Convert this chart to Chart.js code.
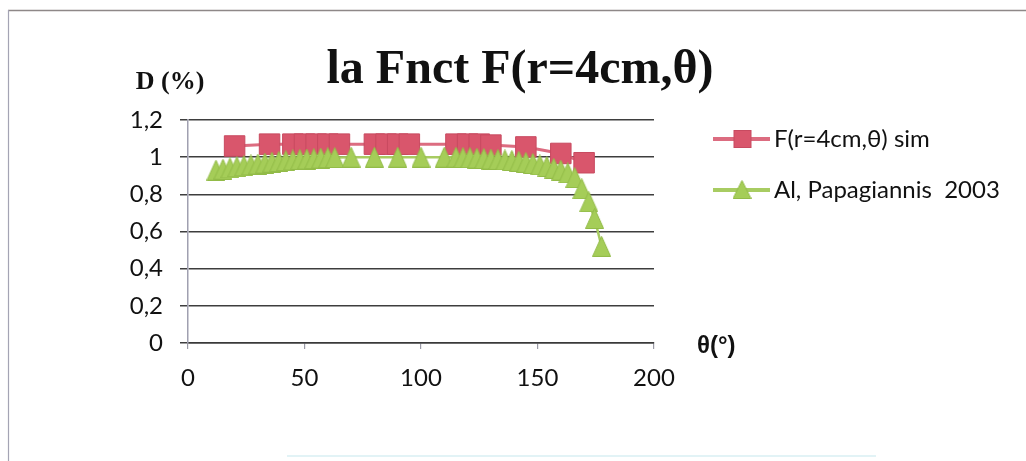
<!DOCTYPE html>
<html>
<head>
<meta charset="utf-8">
<script src="https://cdn.jsdelivr.net/npm/chart.js@4/dist/chart.umd.min.js"></script>
<style>
  html, body { margin: 0; padding: 0; background: #fff; overflow: hidden; }
  canvas { display: block; }
</style>
</head>
<body>
<canvas id="c" width="1026" height="461"></canvas>
<script>
// Simulated anisotropy function F(r=4cm, θ)
const simAngles = [20, 35, 45, 50, 55, 60, 65, 80, 85, 90, 95, 115, 120, 125, 130, 145, 160, 170];
const simValues = [1.06, 1.07, 1.07, 1.07, 1.07, 1.07, 1.07, 1.07, 1.07, 1.07, 1.07, 1.07, 1.07, 1.07, 1.065, 1.055, 1.02, 0.97];

// Published values (Papagiannis et al. 2003)
const refAngles = [12, 15, 18, 21, 24, 27, 30, 33, 36, 39, 42, 45, 48, 51, 54, 57, 60, 63,
                   70, 80, 90, 100, 110,
                   115, 118, 121, 124, 127, 130, 133, 136, 139, 142, 145, 148, 151, 154, 157, 160, 163, 166,
                   169, 172, 174.5, 177.5];
const refValues = [0.93, 0.935, 0.942, 0.948, 0.953, 0.958, 0.963, 0.968, 0.973, 0.977, 0.981, 0.985, 0.988, 0.99, 0.992, 0.995, 0.997, 0.998,
                   1.0, 1.0, 1.0, 1.0, 1.0,
                   1.0, 0.998, 0.997, 0.995, 0.993, 0.99, 0.988, 0.985, 0.982, 0.978, 0.972, 0.966, 0.958, 0.95, 0.94, 0.93, 0.915, 0.89,
                   0.83, 0.76, 0.67, 0.52];

const xTickValues = [0, 50, 100, 150, 200];
const yTickValues = [0, 0.2, 0.4, 0.6, 0.8, 1.0, 1.2];

const seriesNames = ['F(r=4cm,\u03b8) sim', 'Al, Papagiannis  2003'];
const chartTitle = 'la Fnct F(r=4cm,\u03b8)';
const yTitle = 'D (%)';
const xTitle = '\u03b8(\u00b0)';

const RED = '#d9566c';
const RED_EDGE = '#c84a60';
const RED_LINE = '#dc6c80';
const GREEN = '#a5cd58';
const GREEN_EDGE = '#92bb48';
const GREEN_LINE = '#a8cc62';

const SANS = 'Lato, "Open Sans", sans-serif';

function triangleSprite(w, h) {
  const cv = document.createElement('canvas');
  cv.width = w; cv.height = h;
  const g = cv.getContext('2d');
  g.beginPath();
  g.moveTo(w / 2, 0.5);
  g.lineTo(w - 0.5, h - 0.5);
  g.lineTo(0.5, h - 0.5);
  g.closePath();
  g.fillStyle = GREEN;
  g.fill();
  g.strokeStyle = GREEN_EDGE;
  g.lineWidth = 1;
  g.stroke();
  return cv;
}
const triPoint = triangleSprite(19, 21);
const triLegend = triangleSprite(19, 19);

const toPoints = (xs, ys) => xs.map((x, i) => ({ x: x, y: ys[i] }));

const decorations = {
  id: 'decorations',
  beforeDraw(chart) {
    const ctx = chart.ctx;
    ctx.save();
    ctx.fillStyle = '#ffffff';
    ctx.fillRect(0, 0, chart.width, chart.height);
    // sheet frame
    ctx.strokeStyle = '#8e8888';
    ctx.lineWidth = 1.5;
    ctx.beginPath();
    ctx.moveTo(8, 10.5); ctx.lineTo(1026, 10.5);
    ctx.stroke();
    ctx.strokeStyle = '#a4a4b4';
    ctx.lineWidth = 1.2;
    ctx.beginPath();
    ctx.moveTo(8.5, 10); ctx.lineTo(8.5, 461);
    ctx.stroke();
    ctx.strokeStyle = '#e2f3f6';
    ctx.lineWidth = 2;
    ctx.beginPath();
    ctx.moveTo(287, 456); ctx.lineTo(876, 456);
    ctx.stroke();
    ctx.restore();
  },
  afterDraw(chart) {
    const ctx = chart.ctx;
    ctx.save();
    ctx.fillStyle = '#111';
    // title
    ctx.font = 'bold 48px "Liberation Serif", "Times New Roman", serif';
    ctx.textAlign = 'center';
    ctx.textBaseline = 'alphabetic';
    ctx.fillText(chartTitle, 520, 83);
    // axis titles
    ctx.font = 'bold 26px "Liberation Serif", "Times New Roman", serif';
    ctx.textBaseline = 'middle';
    ctx.fillText(yTitle, 170, 82);
    ctx.font = 'bold 24px "Liberation Sans", Arial, sans-serif';
    ctx.textAlign = 'left';
    ctx.fillText(xTitle, 697, 346);

    // legend
    const rows = [
      { y: 139, line: RED_LINE, marker: 'rect', text: seriesNames[0] },
      { y: 190, line: GREEN_LINE, marker: 'tri', text: seriesNames[1] }
    ];
    rows.forEach(r => {
      ctx.strokeStyle = r.line;
      ctx.lineWidth = 4;
      ctx.beginPath();
      ctx.moveTo(713, r.y); ctx.lineTo(770, r.y);
      ctx.stroke();
      if (r.marker === 'rect') {
        ctx.fillStyle = RED;
        ctx.strokeStyle = RED_EDGE;
        ctx.lineWidth = 1;
        ctx.fillRect(734, r.y - 8.5, 17, 17);
        ctx.strokeRect(734, r.y - 8.5, 17, 17);
      } else {
        ctx.drawImage(triLegend, 742 - 9.5, r.y - 10);
      }
      ctx.fillStyle = '#111';
      ctx.font = '24px ' + SANS;
      ctx.textAlign = 'left';
      ctx.textBaseline = 'middle';
      ctx.fillText(r.text, 774, r.y);
    });
    ctx.restore();
  }
};

new Chart(document.getElementById('c'), {
  type: 'scatter',
  data: {
    datasets: [
      {
        label: seriesNames[0],
        data: toPoints(simAngles, simValues),
        showLine: true,
        borderColor: RED_LINE,
        borderWidth: 3,
        backgroundColor: RED,
        pointStyle: 'rect',
        pointRadius: 14.5,
        pointHoverRadius: 14.5,
        pointBackgroundColor: RED,
        pointBorderColor: RED_EDGE,
        pointBorderWidth: 1,
        order: 2
      },
      {
        label: seriesNames[1],
        data: toPoints(refAngles, refValues),
        showLine: true,
        borderColor: GREEN_LINE,
        borderWidth: 2.5,
        backgroundColor: GREEN,
        pointStyle: triPoint,
        pointRadius: 10,
        order: 1
      }
    ]
  },
  options: {
    responsive: false,
    animation: false,
    devicePixelRatio: 1,
    clip: false,
    layout: { padding: { top: 120, right: 372, bottom: 0, left: 0 } },
    plugins: {
      legend: { display: false },
      title: { display: false },
      tooltip: { enabled: false }
    },
    scales: {
      x: {
        type: 'linear',
        min: 0, max: 200,
        afterBuildTicks: s => { s.ticks = xTickValues.map(v => ({ value: v })); },
        afterFit: s => { s.height = 461 - 343; },
        ticks: {
          font: { family: SANS, size: 24 },
          color: '#111',
          padding: 15,
          maxRotation: 0
        },
        grid: {
          drawOnChartArea: false,
          drawTicks: true,
          tickLength: 6,
          color: '#9a9aa6',
          lineWidth: 1.2
        },
        border: { display: true, color: '#3a3a3a', width: 1.5 }
      },
      y: {
        type: 'linear',
        min: 0, max: 1.2,
        afterBuildTicks: s => { s.ticks = yTickValues.map(v => ({ value: v })); },
        afterFit: s => { s.width = 188; },
        ticks: {
          font: { family: SANS, size: 24 },
          color: '#111',
          padding: 17,
          callback: v => String(Math.round(v * 10) / 10).replace('.', ',')
        },
        grid: {
          drawTicks: true,
          tickLength: 8,
          color: '#3e3e3e',
          lineWidth: 1.5
        },
        border: { display: true, color: '#a0a0b0', width: 1.5 }
      }
    }
  },
  plugins: [decorations]
});
</script>
</body>
</html>
